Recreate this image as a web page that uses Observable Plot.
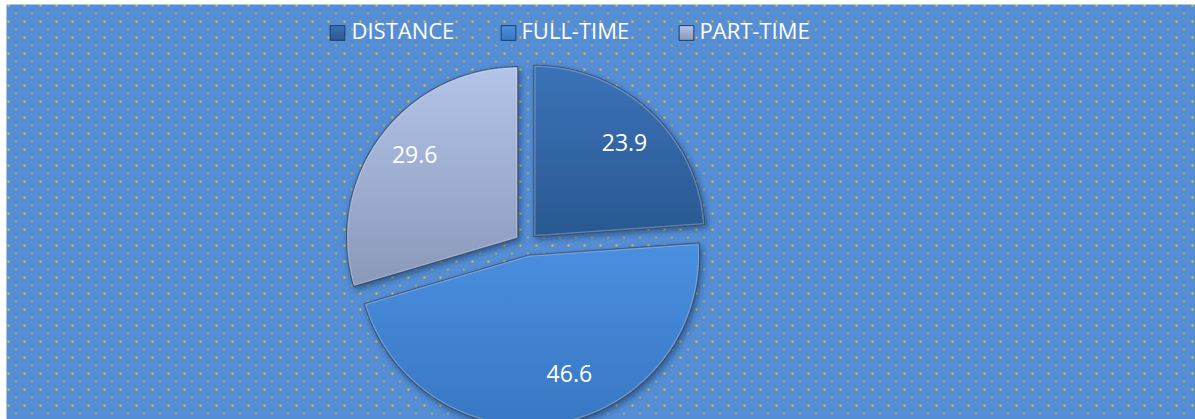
<!DOCTYPE html>
<html><head><meta charset="utf-8">
<script src="https://cdn.jsdelivr.net/npm/d3@7"></script>
<script src="https://cdn.jsdelivr.net/npm/@observablehq/plot@0.6"></script>
<style>body{margin:0;background:#fff;font-family:"Open Sans",sans-serif;}</style>
</head><body><div id="chart"></div>
<script>
// ---- data ----
const categories = ["DISTANCE", "FULL-TIME", "PART-TIME"];
const values = [23.9, 46.6, 29.6];
const labels = ["23.9", "46.6", "29.6"];

// ---- layout / style ----
const W = 1195, H = 419;
const mL = 6, mT = 4;
const R = 171, cx = 526, cy = 244;       // pie radius & centre in pixels
const explode = 11 / R;                    // explosion as fraction of radius
const labelR = [0.76, 0.74, 0.77];
const labelShift = [0.02, -0.15, 0.03];    // angular nudge of label (radians)
const topColors = ["#3b72b8", "#4a8fe0", "#b3c4e9"];
const botColors = ["#2a5891", "#3877c3", "#8a98b9"];
const legendMarkerDx = [331, 502, 680];
const legendTextDx = [345, 515, 693];

const pie = d3.pie().sort(null).value(d => d.value).startAngle(0).endAngle(2 * Math.PI);
const slices = pie(categories.map((c, i) => ({category: c, value: values[i], label: labels[i], i})));

const slicePts = slices.map(s => {
  const mid = (s.startAngle + s.endAngle) / 2;
  const ox = explode * Math.sin(mid), oy = explode * Math.cos(mid);
  const pts = [{x: ox, y: oy}];
  const n = Math.ceil((s.endAngle - s.startAngle) / 0.005);
  for (let k = 0; k <= n; k++) {
    const a = s.startAngle + (s.endAngle - s.startAngle) * k / n;
    pts.push({x: ox + Math.sin(a), y: oy + Math.cos(a)});
  }
  return pts;
});
const sliceMarks = slicePts.map((pts, i) => Plot.line(pts, {x: "x", y: "y", curve: "linear-closed",
  fill: `url(#g${i})`, stroke: "#1f3d63", strokeOpacity: 0.8, strokeWidth: 1.3, strokeLinejoin: "round"}));
const highlightMarks = slicePts.map((pts, i) => Plot.line(pts, {x: "x", y: "y", curve: "linear-closed",
  fill: "none", stroke: "white", strokeOpacity: 0.28, strokeWidth: 3, clip: false}));

const labelData = slices.map((s, i) => {
  const mid = (s.startAngle + s.endAngle) / 2;
  const a = mid + labelShift[i];
  return {x: explode * Math.sin(mid) + labelR[i] * Math.sin(a), y: explode * Math.cos(mid) + labelR[i] * Math.cos(a), text: s.data.label};
});

const xDomain = [(mL - cx) / R, (W - cx) / R];
const yDomain = [-(H - cy) / R, (cy - mT) / R];

const svg = Plot.plot({
  width: W, height: H,
  marginLeft: mL, marginTop: mT, marginRight: 0, marginBottom: 0,
  x: {domain: xDomain, axis: null},
  y: {domain: yDomain, axis: null},
  style: {background: "#fff", fontFamily: "'Open Sans', sans-serif"},
  marks: [
    Plot.frame({fill: "url(#dots)", stroke: "none"}),
    ...sliceMarks,
    ...highlightMarks,
    Plot.text(labelData, {x: "x", y: "y", text: "text", fill: "white", fontSize: 23}),
    ...categories.map((c, i) => Plot.dot([c], {frameAnchor: "top-left", dx: legendMarkerDx[i], dy: 28.5,
      symbol: "square", r: 8.3, fill: `url(#g${i})`, stroke: "#1f3d63", strokeWidth: 1})),
    ...categories.map((c, i) => Plot.text([c], {frameAnchor: "top-left", dx: legendTextDx[i], dy: 27.5,
      lineAnchor: "middle", text: d => d, textAnchor: "start", fill: "white", fontSize: 22}))
  ]
});

const defs = d3.select(svg).insert("defs", ":first-child");
const pat = defs.append("pattern").attr("id", "dots").attr("patternUnits", "userSpaceOnUse")
  .attr("x", 0).attr("y", 0).attr("width", 16).attr("height", 16);
pat.append("rect").attr("width", 16).attr("height", 16).attr("fill", "#558ed5");
pat.append("rect").attr("x", 7).attr("y", 4).attr("width", 2).attr("height", 2).attr("fill", "#ffc000");
pat.append("rect").attr("x", 15).attr("y", 12).attr("width", 2).attr("height", 2).attr("fill", "#ffc000");
categories.forEach((c, i) => {
  const g = defs.append("linearGradient").attr("id", `g${i}`).attr("x1", 0).attr("y1", 0).attr("x2", 0).attr("y2", 1);
  g.append("stop").attr("offset", "0%").attr("stop-color", topColors[i]);
  g.append("stop").attr("offset", "100%").attr("stop-color", botColors[i]);
});
const f = defs.append("filter").attr("id", "shadow").attr("x", "-10%").attr("y", "-10%").attr("width", "130%").attr("height", "130%");
f.append("feDropShadow").attr("dx", 2).attr("dy", 3).attr("stdDeviation", 3)
  .attr("flood-color", "#14284a").attr("flood-opacity", 0.55);
// shadow only on filled slice paths; inner highlight clipped to each slice
const linePaths = d3.select(svg).selectAll("g[aria-label='line'] path").nodes();
linePaths.slice(0, 3).forEach(p => p.setAttribute("filter", "url(#shadow)"));
linePaths.slice(3, 6).forEach((p, i) => {
  defs.append("clipPath").attr("id", `clip${i}`).append("path").attr("d", linePaths[i].getAttribute("d"))
    .attr("transform", linePaths[i].getAttribute("transform"));
  p.setAttribute("clip-path", `url(#clip${i})`);
});

document.getElementById("chart").appendChild(svg);
</script>
</body></html>
